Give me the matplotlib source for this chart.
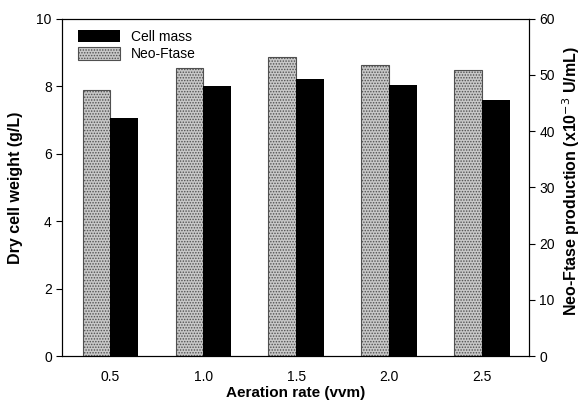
import numpy as np
import matplotlib
matplotlib.use("Agg")
import matplotlib.pyplot as plt

plt.rcParams['font.family'] = ['Liberation Sans', 'DejaVu Sans']
plt.rcParams['hatch.color'] = '#606060'
plt.rcParams['hatch.linewidth'] = 0.7

aeration = ["0.5", "1.0", "1.5", "2.0", "2.5"]
cell_mass = [7.05, 8.0, 8.2, 8.05, 7.6]          # g/L, left axis
neo_ftase = [47.4, 51.3, 53.2, 51.7, 50.8]       # x10^-3 U/mL, right axis

x = np.arange(len(aeration))
w = 0.3

fig = plt.figure(figsize=(5.81, 4.07), dpi=100)
ax = fig.add_axes([0.107, 0.125, 0.803, 0.829])
ax2 = ax.twinx()

ax2.bar(x - w / 2, neo_ftase, w, color='#c8c8c8', hatch='......',
        edgecolor='#505050', linewidth=0.8, label='Neo-Ftase')
ax.bar(x + w / 2, cell_mass, w, color='black', label='Cell mass')

ax.set_zorder(ax2.get_zorder() + 1)
ax.patch.set_visible(False)

ax.set_xlim(-0.52, 4.5)
ax.set_ylim(0, 10)
ax2.set_ylim(0, 60)
ax.set_yticks([0, 2, 4, 6, 8, 10])
ax2.set_yticks([0, 10, 20, 30, 40, 50, 60])
ax.set_xticks(x)
ax.set_xticklabels(aeration)
ax.tick_params(axis='x', length=0, pad=10, labelsize=10)
ax.tick_params(axis='y', direction='out', length=4, labelsize=10, width=0.8)
ax2.tick_params(axis='y', direction='out', length=4, labelsize=10, width=0.8)

for a in (ax, ax2):
    for s in a.spines.values():
        s.set_linewidth(0.8)

ax.set_xlabel('Aeration rate (vvm)', fontweight='bold', fontsize=11)
ax.xaxis.set_label_coords(0.5, -0.09)
ax.set_ylabel('Dry cell weight (g/L)', fontweight='bold', fontsize=11.5)
ax.yaxis.set_label_coords(-0.085, 0.5)
ax2.set_ylabel('Neo-Ftase production (x10$^{-3}$ U/mL)', fontweight='bold',
               fontsize=11.5)
ax2.yaxis.set_label_coords(1.068, 0.52)

h1, l1 = ax.get_legend_handles_labels()
h2, l2 = ax2.get_legend_handles_labels()
ax.legend(h1 + h2, l1 + l2, loc='upper left', frameon=False, fontsize=10,
          handlelength=3.0, handleheight=1.0, labelspacing=0.25,
          borderaxespad=0.4, bbox_to_anchor=(0.01, 1.0))

fig.savefig("out.png", dpi=100)
